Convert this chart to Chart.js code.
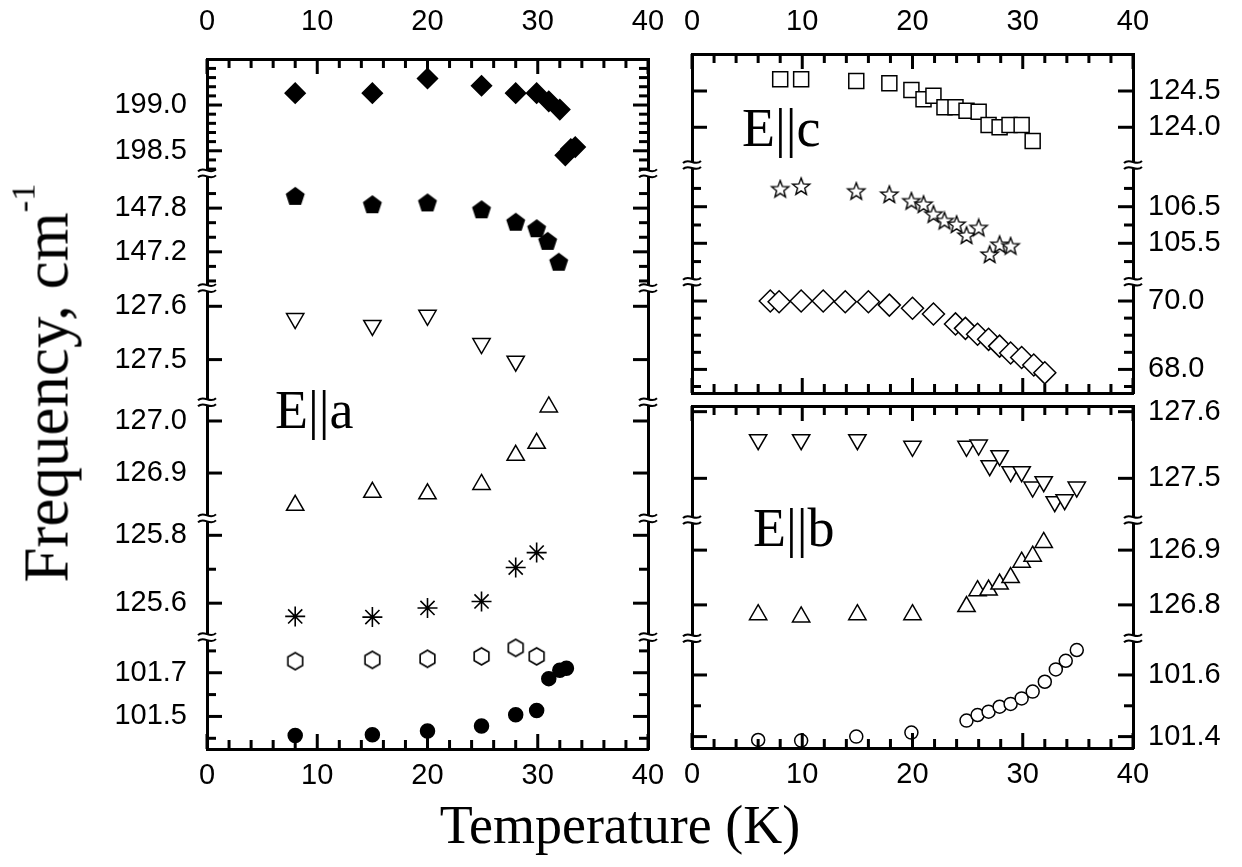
<!DOCTYPE html>
<html>
<head>
<meta charset="utf-8">
<script src="https://cdn.jsdelivr.net/npm/chart.js@4.4.1/dist/chart.umd.min.js"></script>
<style>
  body { margin: 0; background: #fff; width: 1242px; height: 867px; position: relative; overflow: hidden; }
  canvas { position: absolute; }
  .lbl { position: absolute; font-family: "Liberation Serif", "Times New Roman", serif; color: #000; white-space: nowrap; }
  .mid { transform: translate(-50%, -50%); }
</style>
</head>
<body>
<canvas id="panelA" width="670" height="867" style="left:0;top:0"></canvas>
<canvas id="panelC" width="582" height="400" style="left:660px;top:0"></canvas>
<canvas id="panelB" width="582" height="467" style="left:660px;top:400px"></canvas>

<div class="lbl" style="left:275px;top:383px;font-size:54px;line-height:54px">E||a</div>
<div class="lbl" style="left:742px;top:101px;font-size:54px;line-height:54px">E||c</div>
<div class="lbl" style="left:753px;top:501px;font-size:54px;line-height:54px">E||b</div>
<div class="lbl mid" style="left:620px;top:825px;font-size:54px;line-height:54px">Temperature (K)</div>
<div class="lbl" style="left:47px;top:383px;font-size:63px;line-height:63px;transform:translate(-50%,-50%) rotate(-90deg)">Frequency, cm<sup style="font-size:0.55em;line-height:0;vertical-align:0.95em">-1</sup></div>

<script>
// ---------- temperature axis ----------
const tempTicks = [0, 10, 20, 30, 40];
const tempMinor = [2, 4, 6, 8, 12, 14, 16, 18, 22, 24, 26, 28, 32, 34, 36, 38];

// ---------- E||a (left panel), segments listed top -> bottom ----------
const rangesA = [[198.253, 199.503], [146.701, 148.277], [127.42, 127.634], [126.813, 127.036], [125.50, 125.85], [101.351, 101.863]];
const ticksA = [[198.5, 199.0], [147.2, 147.8], [127.5, 127.6], [126.9, 127.0], [125.6, 125.8], [101.5, 101.7]];
const minorA = [
  [198.3, 198.4, 198.6, 198.7, 198.8, 198.9, 199.1, 199.2, 199.3, 199.4],
  [146.8, 147.0, 147.4, 147.6, 148.0],
  [], [], [125.7], [101.4, 101.6, 101.8]
];

const tA_diamond = [8.0, 15.0, 20.0, 24.9, 28.0, 29.9, 31.0, 32.0, 32.5, 33.0, 33.4];
const fA_diamond = [199.13, 199.13, 199.29, 199.21, 199.13, 199.13, 199.04, 198.95, 198.45, 198.52, 198.54];
const tA_pentagon = [8.0, 15.0, 20.0, 24.9, 28.0, 29.9, 30.9, 31.9];
const fA_pentagon = [147.955, 147.84, 147.865, 147.77, 147.60, 147.51, 147.337, 147.05];
const tA_down = [8.0, 15.0, 20.0, 24.9, 28.0];
const fA_down = [127.577, 127.564, 127.583, 127.530, 127.497];
const tA_up = [8.0, 15.0, 20.0, 24.9, 28.0, 29.9, 31.0];
const fA_up = [126.838, 126.863, 126.860, 126.878, 126.934, 126.957, 127.027];
const tA_aster = [8.0, 15.0, 20.0, 24.9, 28.0, 29.9];
const fA_aster = [125.561, 125.559, 125.586, 125.605, 125.705, 125.749];
const tA_hex = [8.0, 15.0, 20.0, 24.9, 28.0, 29.9];
const fA_hex = [101.753, 101.759, 101.764, 101.775, 101.814, 101.775];
const tA_circle = [8.0, 15.0, 20.0, 24.9, 28.0, 29.9, 31.0, 32.0, 32.6];
const fA_circle = [101.413, 101.416, 101.433, 101.456, 101.508, 101.527, 101.673, 101.711, 101.721];

// ---------- E||c (top right) ----------
const rangesC = [[123.48, 125.01], [104.45, 107.64], [67.31, 70.565]];
const ticksC = [[124.0, 124.5], [105.5, 106.5], [68.0, 70.0]];
const minorC = [[], [105.0, 106.0, 107.0], [67.5, 68.5, 69.0, 69.5]];

const tC_square = [8.0, 9.9, 14.9, 17.9, 19.9, 21.0, 21.9, 22.9, 23.9, 24.9, 26.0, 26.9, 27.9, 28.8, 29.9, 30.9];
const fC_square = [124.661, 124.661, 124.638, 124.606, 124.514, 124.386, 124.435, 124.275, 124.275, 124.229, 124.215, 124.032, 124.0, 124.032, 124.032, 123.81];
const tC_star = [8.0, 9.9, 14.9, 17.9, 19.9, 21.0, 21.9, 22.9, 24.0, 24.9, 26.0, 27.0, 27.9, 28.9];
const fC_star = [106.97, 107.04, 106.91, 106.82, 106.64, 106.55, 106.28, 106.10, 106.00, 105.70, 105.91, 105.18, 105.45, 105.41];
const tC_diamond = [7.1, 7.9, 9.9, 11.9, 13.9, 16.0, 17.9, 20.0, 21.9, 23.9, 24.8, 25.9, 26.9, 27.9, 28.9, 29.9, 31.0, 32.0];
const fC_diamond = [70.0, 69.98, 70.0, 70.0, 69.98, 69.98, 69.88, 69.79, 69.62, 69.33, 69.2, 69.03, 68.88, 68.68, 68.48, 68.35, 68.13, 67.9];

// ---------- E||b (bottom right) ----------
const rangesB = [[127.4375, 127.6085], [126.739, 126.955], [101.363, 101.719]];
const ticksB = [[127.5, 127.6], [126.8, 126.9], [101.4, 101.6]];
const minorB = [[], [], [101.5]];

const tB_down = [6.0, 9.9, 15.0, 20.0, 24.9, 26.0, 27.0, 27.9, 28.9, 29.9, 30.9, 31.9, 32.9, 33.8, 34.9];
const fB_down = [127.558, 127.558, 127.558, 127.548, 127.548, 127.550, 127.519, 127.534, 127.510, 127.510, 127.487, 127.495, 127.465, 127.468, 127.487];
const tB_up = [6.0, 9.9, 15.0, 20.0, 24.9, 25.9, 26.9, 27.9, 28.9, 29.9, 30.9, 31.9];
const fB_up = [126.782, 126.778, 126.782, 126.782, 126.797, 126.826, 126.827, 126.838, 126.850, 126.878, 126.889, 126.914];
const tB_circle = [6.0, 9.9, 14.9, 19.9, 24.9, 25.9, 26.9, 27.9, 28.9, 29.9, 30.9, 32.0, 33.0, 33.9, 34.9];
const fB_circle = [101.389, 101.387, 101.400, 101.413, 101.452, 101.470, 101.481, 101.497, 101.506, 101.524, 101.546, 101.578, 101.618, 101.646, 101.681];

Chart.defaults.font.family = '"Liberation Sans", Arial, sans-serif';
Chart.defaults.color = '#000';

const MAJOR = 15, MINOR = 9;
const LABEL_SIZE = 29;

// marker glyphs chart.js has no built-in style for
function polyMarker(n, r, filled) {
  const s = Math.ceil(2 * r + 4);
  const c = document.createElement('canvas');
  c.width = c.height = s;
  const g = c.getContext('2d');
  g.translate(s / 2, s / 2);
  g.beginPath();
  for (let k = 0; k < n; k++) {
    const a = k * 2 * Math.PI / n;
    g.lineTo(r * Math.sin(a), -r * Math.cos(a));
  }
  g.closePath();
  g.fillStyle = filled ? '#000' : '#fff';
  g.fill();
  g.lineWidth = 1.6;
  g.strokeStyle = '#000';
  g.stroke();
  return c;
}
function starMarker(ro, ri) {
  const s = Math.ceil(2 * ro + 4);
  const c = document.createElement('canvas');
  c.width = c.height = s;
  const g = c.getContext('2d');
  g.translate(s / 2, s / 2);
  g.beginPath();
  for (let k = 0; k < 10; k++) {
    const r = k % 2 ? ri : ro;
    const a = k * Math.PI / 5;
    g.lineTo(r * Math.sin(a), -r * Math.cos(a));
  }
  g.closePath();
  g.fillStyle = '#fff';
  g.fill();
  g.lineWidth = 1.4;
  g.strokeStyle = '#000';
  g.stroke();
  return c;
}

const pts = (t, f) => t.map((x, i) => ({ x: x, y: f[i] }));
function series(t, f, axis, style) {
  return Object.assign({
    data: pts(t, f), yAxisID: axis, showLine: false, clip: false,
    pointBorderColor: '#000', pointBackgroundColor: '#fff', pointBorderWidth: 1.5,
    pointRadius: 10, pointHoverRadius: 10,
  }, style);
}

function noPad(s) { s.paddingTop = 0; s.paddingBottom = 0; s.paddingLeft = 0; s.paddingRight = 0; }

function buildPanel(id, cfg) {
  const scales = {};
  const n = cfg.ranges.length;
  cfg.ranges.forEach((r, i) => {
    ['left', 'right'].forEach(pos => {
      const labeled = pos === cfg.labelSide;
      scales[(pos === 'left' ? 'yL' : 'yR') + i] = {
        type: 'linear', position: pos, stack: pos === 'left' ? 'SL' : 'SR',
        stackWeight: cfg.weights[i], weight: pos === 'left' ? n - i : i,
        min: r[0], max: r[1],
        grid: { display: false, drawTicks: false },
        border: { display: true, color: '#000', width: 3 },
        ticks: {
          display: labeled, padding: pos === 'left' ? 20 : 15, autoSkip: false,
          font: { size: LABEL_SIZE }, callback: v => v.toFixed(1)
        },
        afterBuildTicks: s => { s.ticks = cfg.ticks[i].map(v => ({ value: v })); },
        afterFit: s => { s.width = pos === 'left' ? cfg.leftW : cfg.rightW; noPad(s); },
      };
    });
  });
  ['x', 'x2'].forEach(k => {
    const bottom = k === 'x';
    scales[k] = {
      type: 'linear', position: bottom ? 'bottom' : 'top', min: 0, max: 40,
      grid: { display: false, drawTicks: false },
      border: { display: true, color: '#000', width: 3 },
      ticks: { display: bottom ? cfg.botLabels : cfg.topLabels, padding: bottom ? 10 : cfg.topPad,
        autoSkip: false, maxRotation: 0, font: { size: LABEL_SIZE } },
      afterBuildTicks: s => { s.ticks = tempTicks.map(v => ({ value: v })); },
      afterFit: s => { s.height = bottom ? cfg.botH : cfg.topH; noPad(s); },
    };
  });

  // inward ticks, minor ticks and the axis-break marks
  const deco = {
    id: 'deco',
    afterDraw(chart) {
      const ctx = chart.ctx, a = chart.chartArea;
      const line = (x1, y1, x2, y2) => { ctx.beginPath(); ctx.moveTo(x1, y1); ctx.lineTo(x2, y2); ctx.stroke(); };
      ctx.save();
      ctx.strokeStyle = '#000';
      ctx.lineWidth = 3;
      Object.values(chart.scales).forEach(s => {
        if (s.axis === 'x') {
          const y0 = s.position === 'bottom' ? a.bottom : a.top;
          const d = s.position === 'bottom' ? -1 : 1;
          tempTicks.forEach(v => { const x = s.getPixelForValue(v); line(x, y0, x, y0 + d * MAJOR); });
          tempMinor.forEach(v => { const x = s.getPixelForValue(v); line(x, y0, x, y0 + d * MINOR); });
        } else {
          const i = +s.id.slice(2);
          const x0 = s.position === 'left' ? a.left : a.right;
          const d = s.position === 'left' ? 1 : -1;
          cfg.ticks[i].forEach(v => { const y = s.getPixelForValue(v); line(x0, y, x0 + d * MAJOR, y); });
          cfg.minor[i].forEach(v => { const y = s.getPixelForValue(v); line(x0, y, x0 + d * MINOR, y); });
        }
      });
      ctx.lineWidth = 2;
      for (let i = 0; i < n - 1; i++) {
        const y = chart.scales['yL' + i].bottom;
        [a.left, a.right].forEach(x0 => {
          ctx.fillStyle = '#fff';
          ctx.fillRect(x0 - 3, y - 3, 6, 6);
          [-3, 3].forEach(dy => {
            ctx.beginPath();
            ctx.moveTo(x0 - 9, y + dy + 1);
            ctx.bezierCurveTo(x0 - 3, y + dy - 5, x0 + 3, y + dy + 5, x0 + 9, y + dy - 1);
            ctx.stroke();
          });
        });
      }
      ctx.restore();
    }
  };

  return new Chart(document.getElementById(id), {
    type: 'scatter',
    data: { datasets: cfg.datasets },
    options: {
      responsive: false, animation: false,
      layout: { padding: 0, autoPadding: false },
      plugins: { legend: { display: false }, tooltip: { enabled: false } },
      scales: scales,
    },
    plugins: [deco],
  });
}

buildPanel('panelA', {
  ranges: rangesA, ticks: ticksA, minor: minorA,
  weights: [114.3, 114.7, 114, 116, 118.7, 111.8],
  labelSide: 'left', leftW: 207, rightW: 22, topH: 59, botH: 118,
  topLabels: true, botLabels: true, topPad: 20,
  datasets: [
    series(tA_diamond, fA_diamond, 'yL0', { pointStyle: 'rectRot', pointRadius: 10, pointBackgroundColor: '#000' }),
    series(tA_pentagon, fA_pentagon, 'yL1', { pointStyle: polyMarker(5, 9, true) }),
    series(tA_down, fA_down, 'yL2', { pointStyle: 'triangle', pointRotation: 180, pointRadius: 10 }),
    series(tA_up, fA_up, 'yL3', { pointStyle: 'triangle', pointRadius: 10 }),
    series(tA_aster, fA_aster, 'yL4', { pointStyle: 'star', pointRadius: 10, pointBorderWidth: 1.6 }),
    series(tA_hex, fA_hex, 'yL5', { pointStyle: polyMarker(6, 8.5, false) }),
    series(tA_circle, fA_circle, 'yL5', { pointStyle: 'circle', pointRadius: 7, pointBackgroundColor: '#000' }),
  ],
});

buildPanel('panelC', {
  ranges: rangesC, ticks: ticksC, minor: minorC,
  weights: [111, 116.7, 111.3],
  labelSide: 'right', leftW: 32, rightW: 109, topH: 54, botH: 7,
  topLabels: true, botLabels: false, topPad: 15,
  datasets: [
    series(tC_square, fC_square, 'yL0', { pointStyle: 'rect', pointRadius: 10.6 }),
    series(tC_star, fC_star, 'yL1', { pointStyle: starMarker(9, 3.8) }),
    series(tC_diamond, fC_diamond, 'yL2', { pointStyle: 'rectRot', pointRadius: 11 }),
  ],
});

buildPanel('panelB', {
  ranges: rangesB, ticks: ticksB, minor: minorB,
  weights: [114, 118.3, 109.7],
  labelSide: 'right', leftW: 32, rightW: 109, topH: 6, botH: 119,
  topLabels: false, botLabels: true, topPad: 15,
  datasets: [
    series(tB_down, fB_down, 'yL0', { pointStyle: 'triangle', pointRotation: 180, pointRadius: 10 }),
    series(tB_up, fB_up, 'yL1', { pointStyle: 'triangle', pointRadius: 10 }),
    series(tB_circle, fB_circle, 'yL2', { pointStyle: 'circle', pointRadius: 6.5 }),
  ],
});
</script>
</body>
</html>
